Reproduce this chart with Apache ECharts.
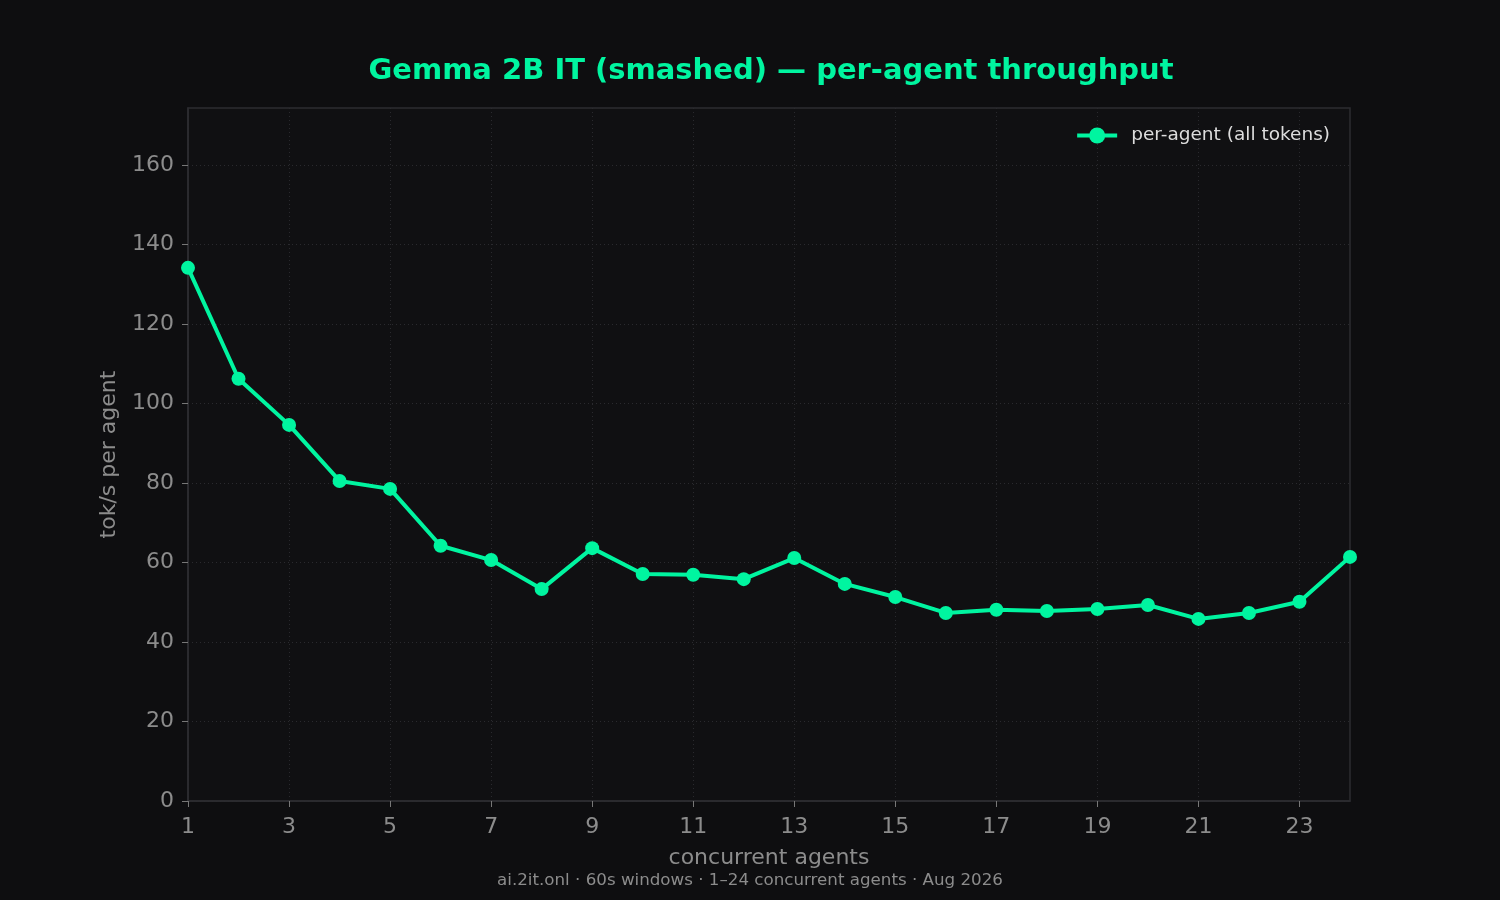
<!DOCTYPE html>
<html lang="en">
<head>
<meta charset="UTF-8">
<title>Gemma 2B IT per-agent throughput</title>
<style>
  html, body { margin: 0; padding: 0; background: #0e0e10; }
  #chart { width: 1500px; height: 900px; }
</style>
</head>
<body>
<div id="chart"></div>
<script src="https://cdn.jsdelivr.net/npm/echarts@6.0.0/dist/echarts.min.js"></script>
<script>
// concurrent agents 1..24
var agents = ['1','2','3','4','5','6','7','8','9','10','11','12','13','14','15','16','17','18','19','20','21','22','23','24'];
// tok/s per agent (all tokens)
var perAgent = [134.1, 106.2, 94.6, 80.5, 78.5, 64.2, 60.6, 53.3, 63.6, 57.1, 56.9, 55.8,
                61.1, 54.6, 51.3, 47.3, 48.1, 47.8, 48.3, 49.3, 45.8, 47.3, 50.1, 61.4];
var yTicks = [0, 20, 40, 60, 80, 100, 120, 140, 160];
var yMax = 174.3;

var green = '#00f5a0';
var grey = '#8c8c8c';
var font = 'DejaVu Sans';

var chart = echarts.init(document.getElementById('chart'));
chart.setOption({
    backgroundColor: '#0e0e10',
    animation: false,
    textStyle: { fontFamily: font },
    title: {
        text: 'Gemma 2B IT (smashed) — per-agent throughput',
        left: 766, top: 52, textAlign: 'center',
        textStyle: { color: green, fontSize: 29, fontWeight: 'bold', fontFamily: font }
    },
    graphic: [{
        type: 'text', left: 'center', top: 872,
        style: { text: 'ai.2it.onl · 60s windows · 1–24 concurrent agents · Aug 2026',
                 fill: grey, fontSize: 16.7, fontFamily: font }
    }],
    legend: {
        right: 165, top: 121,
        itemWidth: 40, itemHeight: 20, itemGap: 10,
        lineStyle: { width: 4 },
        textStyle: { color: '#dddddd', fontSize: 18.5, fontFamily: font, padding: [0, 0, 0, 9] },
        data: ['per-agent (all tokens)']
    },
    grid: {
        left: 188, right: 150, top: 108, bottom: 99,
        show: true, backgroundColor: '#101012', borderColor: '#2c2c31', borderWidth: 1.5
    },
    xAxis: {
        type: 'category',
        data: agents,
        boundaryGap: false,
        name: 'concurrent agents',
        nameLocation: 'middle', nameGap: 46,
        nameTextStyle: { color: grey, fontSize: 22, fontFamily: font },
        axisLine: { lineStyle: { color: '#2c2c31', width: 1.5 } },
        axisTick: { interval: 1, alignWithLabel: true, length: 6, lineStyle: { color: '#777' } },
        axisLabel: { interval: 1, color: grey, fontSize: 22, margin: 15, fontFamily: font },
        splitLine: { show: true, interval: 1, lineStyle: { color: '#2a2a2e', type: [1, 3] } }
    },
    yAxis: {
        type: 'value',
        min: 0, max: yMax, interval: 20,
        name: 'tok/s per agent',
        nameLocation: 'middle', nameGap: 68,
        nameTextStyle: { color: grey, fontSize: 22, fontFamily: font },
        axisLine: { show: true, lineStyle: { color: '#2c2c31', width: 1.5 } },
        axisTick: { show: true, length: 6, lineStyle: { color: '#777' }, customValues: yTicks },
        axisLabel: { color: grey, fontSize: 22, margin: 14, fontFamily: font, customValues: yTicks },
        splitLine: { show: true, lineStyle: { color: '#2a2a2e', type: [1, 3] } }
    },
    series: [{
        name: 'per-agent (all tokens)',
        type: 'line',
        data: perAgent,
        clip: true,
        symbol: 'circle',
        symbolSize: 14,
        itemStyle: { color: green },
        lineStyle: { color: green, width: 4 }
    }]
});
</script>
</body>
</html>
